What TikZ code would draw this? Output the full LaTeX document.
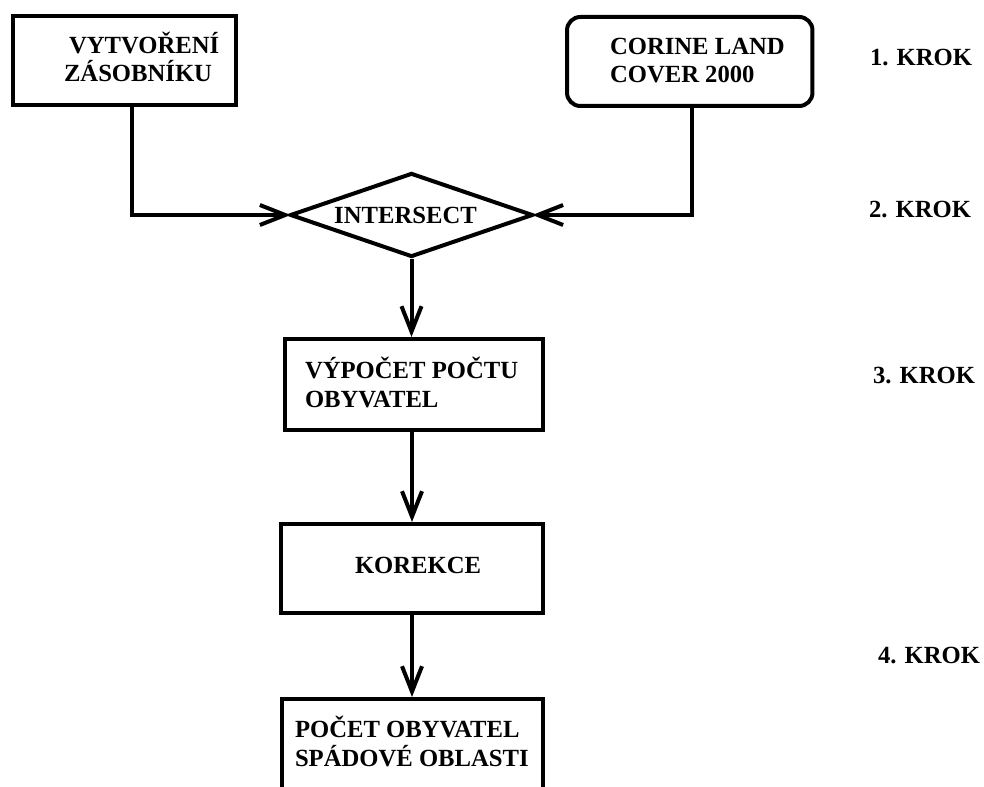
\documentclass[tikz,border=0pt]{standalone}
\usepackage{fontspec}
\setmainfont{Liberation Serif}
\usetikzlibrary{arrows.meta,shapes.geometric}

\begin{document}
\begin{tikzpicture}[x=0.75pt,y=-0.75pt,
  line width=3pt,
  box/.style={draw, rectangle, inner sep=0pt},
  roundbox/.style={box, rounded corners=10pt},
  decision/.style={draw, diamond, aspect=2.893, inner sep=0pt,
    font=\fontsize{18.5}{21.5}\selectfont\bfseries},
  txt/.style={inner sep=0pt, anchor=base west, align=left,
    font=\fontsize{18.5}{21.5}\selectfont\bfseries},
  arr/.style={-{Straight Barb[length=19pt,width=15pt]}}
]
\useasboundingbox (0,0) rectangle (984,787);
\clip (0,0) rectangle (984,787);

% boxes
\node[box, minimum width=167.25pt, minimum height=66.75pt] (b1) at (124.5,60.5) {};
\node[roundbox, minimum width=184.1pt, minimum height=66.75pt] (b2) at (689.75,61.5) {};
\node[decision, minimum width=182.25pt, minimum height=63pt] (dia) at (411.5,215) {INTERSECT\hspace*{9pt}};
\node[box, minimum width=193.5pt, minimum height=68.25pt] (b3) at (414,384.5) {};
\node[box, minimum width=196.5pt, minimum height=66.75pt] (b4) at (412,568.5) {};
\node[box, minimum width=195.75pt, minimum height=83.25pt] (b5) at (412.5,754.5) {};

% box texts (anchored at the baseline of the last line)
\node[txt] (t1) at (62,82) {\hspace*{3.75pt}VYTVOŘENÍ\\ZÁSOBNÍKU};
\node[txt] (t2) at (608,83) {CORINE LAND\\COVER 2000};
\node[txt] (t3) at (303,407) {VÝPOČET POČTU\\OBYVATEL};
\node[txt] (t4) at (353,573) {KOREKCE};
\node[txt] (t5) at (293,766) {POČET OBYVATEL\\SPÁDOVÉ OBLASTI};

% step labels
\node[txt] (k1) at (868,66) {1. KROK};
\node[txt] (k2) at (867,218) {2. KROK};
\node[txt] (k3) at (871,383) {3. KROK};
\node[txt] (k4) at (876,663) {4. KROK};

% connectors
\coordinate (j1) at (132,215);
\coordinate (j2) at (692,215);
\draw[arr, shorten >=-2pt] (b1.south -| j1) -- (j1) -- (dia.west);
\draw[arr, shorten >=-2pt] (b2.south -| j2) -- (j2) -- (dia.east);
\draw[arr] (dia.south) -- (dia.south |- b3.north);
\draw[arr] (b3.south -| b4.north) -- (b4.north);
\draw[arr] (b4.south) -- (b5.north -| b4.south);
\end{tikzpicture}
\end{document}
